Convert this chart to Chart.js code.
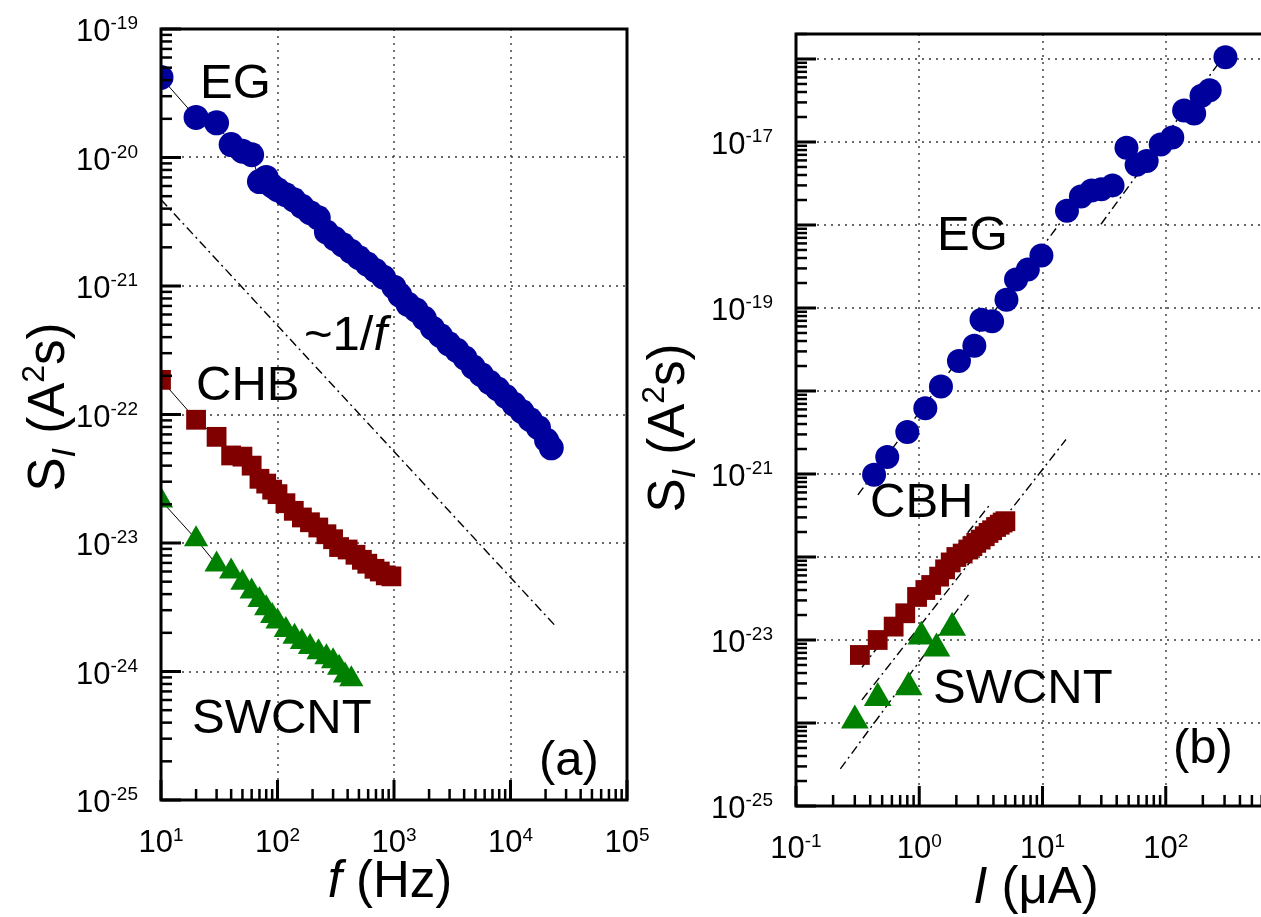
<!DOCTYPE html>
<html><head><meta charset="utf-8">
<script src="https://cdn.jsdelivr.net/npm/chart.js@4.4.0/dist/chart.umd.min.js"></script>
<style>
html,body{margin:0;padding:0;background:#fff;overflow:hidden;width:1261px;height:917px;}
#ca{position:absolute;left:0;top:0;}
#cb{position:absolute;left:640px;top:0;}
</style></head><body>
<canvas id="ca" width="660" height="917"></canvas>
<canvas id="cb" width="700" height="917"></canvas>
<script>
// ---------- Panel (a): S_I vs f ----------
const EG_F = [10,20,30,40,50,60,70,80,90,100,117.5,138,162,190.5,224,263,309,363,427,501,589,692,813,1000,1122,1318,1549,1820,2138,2512,2951,3467,4074,4786,5623,6607,7762,9120,10715,12589,14791,17378,20417,22387];
const EG_S = [4.2e-20,2.05e-20,1.86e-20,1.26e-20,1.12e-20,1.05e-20,6.5e-21,7.0e-21,6.0e-21,5.62e-21,5.13e-21,4.68e-21,4.17e-21,3.72e-21,3.39e-21,2.63e-21,2.34e-21,2.09e-21,1.86e-21,1.66e-21,1.48e-21,1.32e-21,1.17e-21,9.8e-22,8.5e-22,7.2e-22,6.5e-22,5.6e-22,4.7e-22,4.1e-22,3.55e-22,3.16e-22,2.75e-22,2.34e-22,2.04e-22,1.78e-22,1.58e-22,1.38e-22,1.2e-22,1.05e-22,9.1e-23,7.9e-23,6.3e-23,5.5e-23];

const CHB_F = [10,20,30,40,50,60,70,80,90,100,117,138,162,190,224,263,300,338,400,467,530,590,680,755,850,950];
const CHB_S = [1.86e-22,9.1e-23,6.7e-23,4.8e-23,4.7e-23,4.0e-23,3.16e-23,2.9e-23,2.6e-23,2.4e-23,2.04e-23,1.78e-23,1.58e-23,1.45e-23,1.32e-23,1.17e-23,1.07e-23,9.3e-24,8.9e-24,8.1e-24,7.4e-24,6.9e-24,6.3e-24,6.0e-24,5.6e-24,5.5e-24];

const SW_F = [10,20,30,40,50,60,70,80,90,100,118,140,162,190,225,263,300,338,380,430];
const SW_S = [2.14e-23,1.07e-23,6.8e-24,6.0e-24,4.9e-24,4.2e-24,3.6e-24,3.1e-24,2.7e-24,2.45e-24,2.1e-24,1.86e-24,1.7e-24,1.55e-24,1.41e-24,1.29e-24,1.2e-24,1.07e-24,9.3e-25,8.7e-25];

const ONE_F_X = [10, 25000];
const ONE_F_Y = [4.7e-21, 2.2e-24];

// ---------- Panel (b): S_I vs I ----------
const EGB_I = [0.43,0.55,0.8,1.12,1.5,2.1,2.8,3.2,3.9,5.1,6.1,7.6,9.8,15.8,20.5,25,30,37,48,58,70,91,113,141,170,195,227,305];
const EGB_S = [9.8e-22,1.6e-21,3.2e-21,6.2e-21,1.13e-20,2.3e-20,3.5e-20,7.2e-20,6.9e-20,1.26e-19,2.2e-19,2.9e-19,4.3e-19,1.48e-18,2.2e-18,2.6e-18,2.7e-18,3.0e-18,8.5e-18,5.3e-18,5.9e-18,9.3e-18,1.13e-17,2.4e-17,2.2e-17,3.6e-17,4.2e-17,1.05e-16];

const CBH_I = [0.33,0.46,0.62,0.77,0.96,1.12,1.25,1.45,1.62,1.8,2.0,2.25,2.5,2.7,2.9,3.15,3.4,3.65,3.9,4.2,4.5,4.75,5.0];
const CBH_S = [6.6e-24,1.0e-23,1.45e-23,2.1e-23,3.3e-23,4.0e-23,4.6e-23,5.8e-23,7.1e-23,8.6e-23,1.0e-22,1.1e-22,1.23e-22,1.35e-22,1.48e-22,1.62e-22,1.78e-22,1.95e-22,2.1e-22,2.3e-22,2.45e-22,2.6e-22,2.7e-22];

const SWB_I = [0.30,0.46,0.82,1.04,1.38,1.85];
const SWB_S = [1.07e-24,2.0e-24,2.7e-24,1.1e-23,7.9e-24,1.4e-23];

const FIT_EG1_I = [0.318, 14.3];   const FIT_EG1_S = [5.6e-22, 1.12e-18];
const FIT_EG2_I = [29.8, 305];     const FIT_EG2_S = [1.02e-18, 1.15e-16];
const FIT_CBH_I = [0.343, 15.5];   const FIT_CBH_S = [1.9e-24, 2.6e-21];
const FIT_CBH2_I = [0.343, 3.75];  const FIT_CBH2_S = [4.7e-24, 4.3e-22];
const FIT_SW_I  = [0.229, 2.51];   const FIT_SW_S  = [2.8e-25, 3.5e-23];

// tick label exponents
const LEFT_X_EXP = [1,2,3,4,5];
const LEFT_Y_EXP = [-19,-20,-21,-22,-23,-24,-25];
const RIGHT_X_EXP = [-1,0,1,2];
const RIGHT_Y_EXP = [-17,-19,-21,-23,-25];

const C_EG = '#00009c', C_CBH = '#800000', C_SW = '#008000';
const F = '"Liberation Sans", Arial, Helvetica, sans-serif';

function pts(xs, ys){ return xs.map((v,i)=>({x:v, y:ys[i]})); }
function markerSet(xs, ys, color, style, r, line){
  return {data: pts(xs,ys), showLine: line, borderColor:'#000', borderWidth:1,
    pointStyle: style, pointRadius: r, pointHoverRadius: r,
    pointBackgroundColor: color, pointBorderColor: color, pointBorderWidth: 0,
    clip: 0, order: 1};
}
function fitSet(xs, ys){
  return {data: pts(xs,ys), showLine:true, borderColor:'#000', borderWidth:1.4,
    borderDash:[9,4,2,4], pointRadius:0, clip:0, order:2};
}

function rich(ctx, parts, x, y, align){
  let w = 0;
  for (const p of parts){ ctx.font = p[1]; w += ctx.measureText(p[0]).width; }
  let cx = align === 'center' ? x - w/2 : (align === 'right' ? x - w : x);
  ctx.textAlign = 'left'; ctx.textBaseline = 'alphabetic'; ctx.fillStyle = '#000';
  for (const p of parts){ ctx.font = p[1]; ctx.fillText(p[0], cx, y + (p[2]||0)); cx += ctx.measureText(p[0]).width; }
}

function decoPlugin(P){
  return {
    id: 'deco',
    beforeDatasetsDraw(chart){
      const {ctx, chartArea:a, scales:{x, y}} = chart;
      ctx.save();
      ctx.strokeStyle = '#383838'; ctx.lineWidth = 1.4; ctx.setLineDash([2,5]);
      for (let e = -30; e <= 10; e++){
        const v = Math.pow(10, e);
        if (v > x.min*1.0001 && v < x.max*0.9999){
          const px = Math.round(x.getPixelForValue(v));
          ctx.beginPath(); ctx.moveTo(px, a.top); ctx.lineTo(px, a.bottom); ctx.stroke();
        }
        if (v > y.min*1.0001 && v < y.max*0.9999){
          const py = Math.round(y.getPixelForValue(v));
          ctx.beginPath(); ctx.moveTo(a.left, py); ctx.lineTo(a.right, py); ctx.stroke();
        }
      }
      ctx.restore();
    },
    afterDatasetsDraw(chart){
      const {ctx, chartArea:a, scales:{x, y}} = chart;
      ctx.save();
      ctx.setLineDash([]); ctx.strokeStyle = '#000';
      for (let e = -30; e <= 10; e++){
        for (let k = 1; k <= 9; k++){
          const v = k*Math.pow(10, e);
          const major = k === 1;
          const len = major ? 20 : 11;
          ctx.lineWidth = major ? 3 : 2.5;
          if (v >= x.min*0.9999 && v <= x.max*1.0001){
            const px = x.getPixelForValue(v);
            ctx.beginPath(); ctx.moveTo(px, a.bottom); ctx.lineTo(px, a.bottom - len); ctx.stroke();
          }
          if (v >= y.min*0.9999 && v <= y.max*1.0001){
            const py = y.getPixelForValue(v);
            ctx.beginPath(); ctx.moveTo(a.left, py); ctx.lineTo(a.left + len, py); ctx.stroke();
          }
        }
      }
      ctx.lineWidth = 3;
      ctx.strokeRect(a.left, a.top, a.right - a.left, a.bottom - a.top);
      ctx.restore();
    },
    afterDraw(chart){
      const {ctx, chartArea:a, scales:{x, y}} = chart;
      ctx.save();
      for (const e of P.xExp){
        const px = x.getPixelForValue(Math.pow(10,e));
        rich(ctx, [['10', '31px '+F, 0], [String(e), '19px '+F, -11]], px, a.bottom + 52, 'center');
      }
      for (const e of P.yExp){
        const py = y.getPixelForValue(Math.pow(10,e));
        rich(ctx, [['10', '31px '+F, 0], [String(e), '19px '+F, -12]], a.left - 23, py + 12, 'right');
      }
      rich(ctx, P.xTitle, P.xTitlePos[0], P.xTitlePos[1], 'center');
      ctx.save();
      ctx.translate(P.yTitlePos[0], P.yTitlePos[1]);
      ctx.rotate(-Math.PI/2);
      rich(ctx, [['S', '51px '+F, 0], ['I', 'italic 34px '+F, 11], [' (A', '51px '+F, 0], ['2', '32px '+F, -20], ['s)', '51px '+F, 0]], 0, 0, 'center');
      ctx.restore();
      for (const t of P.labels){ rich(ctx, t[0], t[1], t[2], 'left'); }
      ctx.restore();
    }
  };
}

const L = '49px '+F;
const commonScale = (min, max, fit, isX) => ({
  type:'logarithmic', min, max, position: isX ? 'bottom' : 'left',
  ticks:{display:false}, grid:{display:false}, border:{display:false},
  afterFit: s => { if (isX) s.height = fit; else s.width = fit; }
});

new Chart(document.getElementById('ca'), {
  type: 'scatter',
  data: { datasets: [
    markerSet(EG_F, EG_S, C_EG, 'circle', 12.5, true),
    markerSet(CHB_F, CHB_S, C_CBH, 'rect', 14, true),
    markerSet(SW_F, SW_S, C_SW, 'triangle', 14, true),
    fitSet(ONE_F_X, ONE_F_Y)
  ]},
  options: {
    responsive:false, animation:false, events:[], devicePixelRatio:1,
    layout:{padding:{left:0, top:29, right:33, bottom:0}},
    plugins:{legend:{display:false}, tooltip:{enabled:false}},
    scales:{ x: commonScale(10, 1e5, 117, true), y: commonScale(1e-25, 1e-19, 161, false) }
  },
  plugins: [decoPlugin({
    xExp: LEFT_X_EXP, yExp: LEFT_Y_EXP,
    xTitle: [['f', 'italic 51px '+F, 0], [' (Hz)', '51px '+F, 0]], xTitlePos: [390, 897],
    yTitlePos: [64, 407],
    labels: [
      [[['EG', L, 0]], 200, 98],
      [[['~1/', L, 0], ['f', 'italic '+L, 0]], 304, 350],
      [[['CHB', L, 0]], 196, 400],
      [[['SWCNT', L, 0]], 192, 733],
      [[['(a)', L, 0]], 539, 775]
    ]
  })]
});

new Chart(document.getElementById('cb'), {
  type: 'scatter',
  data: { datasets: [
    markerSet(EGB_I, EGB_S, C_EG, 'circle', 12, false),
    markerSet(CBH_I, CBH_S, C_CBH, 'rect', 14, false),
    markerSet(SWB_I, SWB_S, C_SW, 'triangle', 16, false),
    fitSet(FIT_EG1_I, FIT_EG1_S),
    fitSet(FIT_EG2_I, FIT_EG2_S),
    fitSet(FIT_CBH_I, FIT_CBH_S),
    fitSet(FIT_CBH2_I, FIT_CBH2_S),
    fitSet(FIT_SW_I, FIT_SW_S)
  ]},
  options: {
    responsive:false, animation:false, events:[], devicePixelRatio:1,
    layout:{padding:{left:0, top:34, right:51, bottom:0}},
    plugins:{legend:{display:false}, tooltip:{enabled:false}},
    scales:{ x: commonScale(0.1, 1000, 111, true), y: commonScale(1e-25, 2e-16, 156, false) }
  },
  plugins: [decoPlugin({
    xExp: RIGHT_X_EXP, yExp: RIGHT_Y_EXP,
    xTitle: [['I', 'italic 51px '+F, 0], [' (\u03BCA)', '51px '+F, 0]], xTitlePos: [396, 903],
    yTitlePos: [44, 428],
    labels: [
      [[['EG', L, 0]], 297, 250],
      [[['CBH', L, 0]], 230, 517],
      [[['SWCNT', L, 0]], 293, 703],
      [[['(b)', L, 0]], 533, 763]
    ]
  })]
});
</script>
</body></html>
